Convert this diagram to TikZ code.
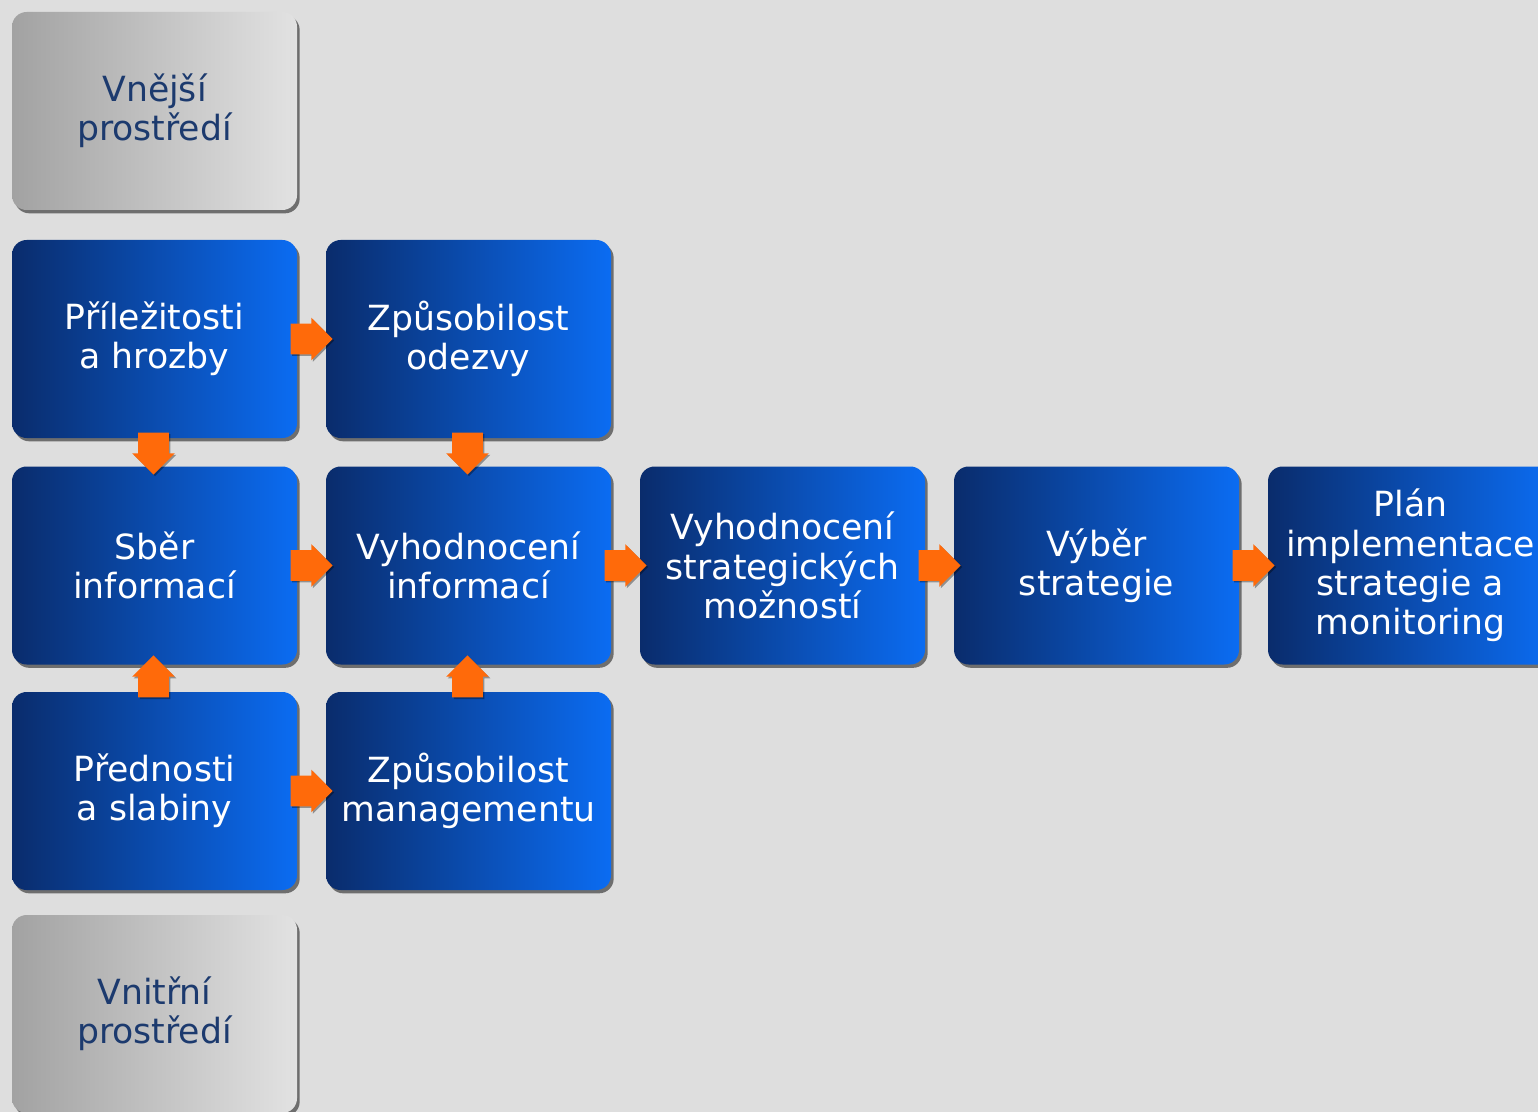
\documentclass[tikz,border=0pt]{standalone}
\usepackage{fontspec}
\setmainfont{DejaVu Sans}
\usetikzlibrary{shapes.arrows,shadows,calc}
\definecolor{bg}{HTML}{DEDEDE}
\definecolor{navy}{HTML}{0A2C6C}
\definecolor{brightblue}{HTML}{0B6CF2}
\definecolor{grayL}{HTML}{A2A2A2}
\definecolor{grayR}{HTML}{E2E2E2}
\definecolor{darktext}{HTML}{1C3A6E}
\definecolor{orangearrow}{HTML}{FF6A0A}
\begin{document}
\begin{tikzpicture}[x=0.75pt,y=-0.75pt,
  box/.style={rounded corners=11pt, minimum width=213.75pt, minimum height=148.5pt,
    align=center, font=\fontsize{26}{29.5}\selectfont, inner sep=0pt,
    drop shadow={shadow xshift=2pt, shadow yshift=-2.5pt, opacity=0.5, fill=black}},
  bluebox/.style={box, left color=navy, right color=brightblue, text=white},
  graybox/.style={box, left color=grayL, right color=grayR, text=darktext},
  blockarrow/.style={shape=single arrow, fill=orangearrow, draw=none,
    minimum height=31.5pt, single arrow head extend=4.5pt,
    single arrow tip angle=90, single arrow head indent=0pt,
    inner xsep=0pt, inner ysep=11.25pt, anchor=tail,
    drop shadow={shadow xshift=1.2pt, shadow yshift=-1.2pt, opacity=0.35, fill=black}},
  rightarr/.style={blockarrow},
  downarr/.style={blockarrow, rotate=-90},
  uparr/.style={blockarrow, rotate=90},
]
\useasboundingbox (0,0) rectangle (1538,1112);
\clip (0,0) rectangle (1538,1112);
\fill[bg] (0,0) rectangle (1538,1112);

% boxes
\node[graybox] (vnejsi) at (154.5,111) {Vnější\\prostředí};
\node[bluebox] (prilez) at (154.5,339) {Příležitosti\\a hrozby};
\node[bluebox] (zpodez) at (468.5,339) {Způsobilost\\odezvy};
\node[bluebox] (sber) at (154.5,565.5) {Sběr\\informací};
\node[bluebox] (vyhinf) at (468.5,565.5) {Vyhodnocení\\informací};
\node[bluebox] (vyhstr) at (782.5,565.5) {Vyhodnocení\\strategických\\možností};
\node[bluebox] (vyber) at (1096.5,565.5) {Výběr\\strategie};
\node[bluebox] (plan) at (1410.5,565.5) {Plán\\implementace\\strategie a\\monitoring};
\node[bluebox] (predn) at (154.5,791) {Přednosti\\a slabiny};
\node[bluebox] (zpman) at (468.5,791) {Způsobilost\\managementu};
\node[graybox] (vnitrni) at (154.5,1014) {Vnitřní\\prostředí};

% connectors (block arrows), placed by their tails
\node[rightarr] (a1) at ($(prilez.east)+(-7,0)$) {};
\node[downarr] (a2) at ($(prilez.south)+(-1,-6)$) {};
\node[downarr] (a3) at ($(zpodez.south)+(-1,-6)$) {};
\node[rightarr] (a4) at ($(sber.east)+(-7,0)$) {};
\node[rightarr] (a5) at ($(vyhinf.east)+(-7,0)$) {};
\node[rightarr] (a6) at ($(vyhstr.east)+(-7,0)$) {};
\node[rightarr] (a7) at ($(vyber.east)+(-7,0)$) {};
\node[uparr] (a8) at ($(predn.north)+(-1,6)$) {};
\node[uparr] (a9) at ($(zpman.north)+(-1,6)$) {};
\node[rightarr] (a10) at ($(predn.east)+(-7,0)$) {};
\end{tikzpicture}
\end{document}
